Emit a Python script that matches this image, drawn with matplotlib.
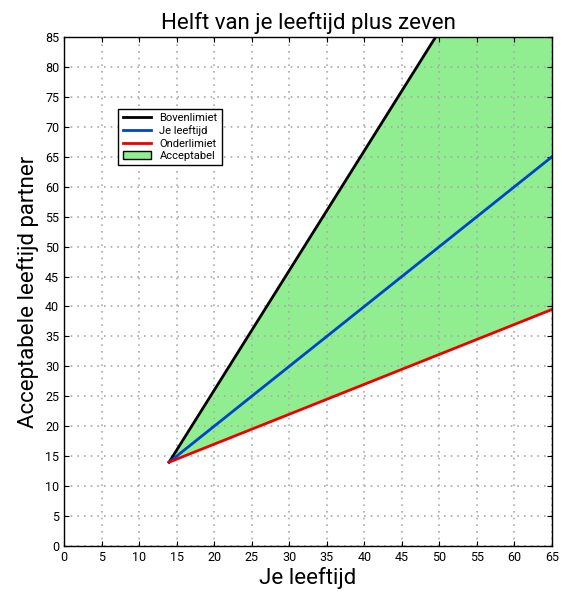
import matplotlib.pyplot as plt
from matplotlib.patches import Patch
from matplotlib.lines import Line2D

plt.rcParams['font.family'] = ['Roboto', 'DejaVu Sans']

# points
age = [14, 65]
upper_x = [14, 49.5]
upper_y = [14, 85]
own_y = [14, 65]
lower_y = [14, 39.5]
fill_x = [14, 49.5, 65]
fill_top = [14, 85, 85]
fill_bottom = [14, 31.75, 39.5]

fig = plt.figure(figsize=(5.67, 5.99), dpi=100)
ax = fig.add_axes([64 / 567, 1 - 546 / 599, 488 / 567, 509 / 599])

ax.fill_between(fill_x, fill_bottom, fill_top, color='#90ee90', lw=0)
ax.plot(upper_x, upper_y, color='black', lw=2)
ax.plot(age, own_y, color='#0044cc', lw=2)
ax.plot(age, lower_y, color='#ee0000', lw=2)

ax.set_xlim(0, 65)
ax.set_ylim(0, 85)
ax.set_xticks(range(0, 66, 5))
ax.set_yticks(range(0, 86, 5))
ax.tick_params(labelsize=9, direction='in', top=True, right=True)
ax.grid(True, color='#aaaaaa', linestyle=(0, (1, 3)), lw=1.2)
for s in ax.spines.values():
    s.set_linewidth(1)

ax.set_title('Helft van je leeftijd plus zeven', fontsize=16, pad=6)
ax.set_xlabel('Je leeftijd', fontsize=16, labelpad=2)
ax.set_ylabel('Acceptabele leeftijd partner', fontsize=16, labelpad=4)

handles = [
    Line2D([], [], color='black', lw=2),
    Line2D([], [], color='#0044cc', lw=2),
    Line2D([], [], color='#ee0000', lw=2),
    Patch(facecolor='#90ee90', edgecolor='black'),
]
labels = ['Bovenlimiet', 'Je leeftijd', 'Onderlimiet', 'Acceptabel']
leg = ax.legend(handles, labels, loc='upper left', bbox_to_anchor=(0.1, 0.87),
                fontsize=8, fancybox=False, framealpha=1, edgecolor='black',
                borderpad=0.4, labelspacing=0.2, handlelength=2.5)
leg.get_frame().set_linewidth(1)

fig.savefig('out.png', dpi=100)
